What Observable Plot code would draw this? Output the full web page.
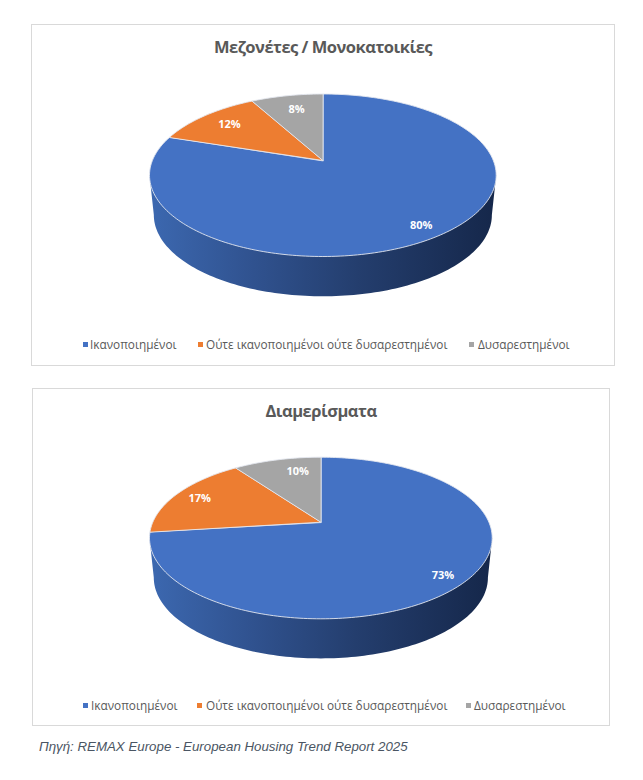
<!DOCTYPE html>
<html>
<head>
<meta charset="utf-8">
<script src="https://cdn.jsdelivr.net/npm/d3@7"></script>
<script src="https://cdn.jsdelivr.net/npm/@observablehq/plot@0.6"></script>
<style>
  html, body { margin: 0; padding: 0; background: #fff; }
  #page { position: relative; width: 643px; height: 780px; overflow: hidden; }
  .panel { position: absolute; box-shadow: inset 0 0 0 1px #d9d9d9; }
  .panel svg { position: absolute; left: 0; top: 0; background: transparent; }
  .title { position: absolute; left: 0; right: 0; text-align: center; font: 700 16.5px "Open Sans", sans-serif; letter-spacing: -0.5px; color: #595959; white-space: nowrap; }
  .lg { position: absolute; font: 400 11.8px "Open Sans", sans-serif; color: #595959; white-space: nowrap; line-height: 14px; }
  .sw { position: absolute; width: 5px; height: 5px; }
  #source { position: absolute; left: 39px; top: 739px; font: italic 13.3px "Liberation Sans", Arial, sans-serif; color: #4a5563; white-space: nowrap; }
</style>
</head>
<body>
<div id="page"></div>
<script>
// Data
const categories = ["Ικανοποιημένοι", "Ούτε ικανοποιημένοι ούτε δυσαρεστημένοι", "Δυσαρεστημένοι"];
const titles = ["Μεζονέτες / Μονοκατοικίες", "Διαμερίσματα"];
const housesValues = [80, 12, 8];
const apartmentsValues = [73, 17, 10];
const colors = ["#4472C4", "#ED7D31", "#A5A5A5"];
const source = "Πηγή: REMAX Europe - European Housing Trend Report 2025";

// Layout (pixels, page coordinates)
const layouts = [
  { values: housesValues, title: titles[0], left: 31, top: 24, w: 584, h: 342, titleTop: 35,
    xr: [149, 495.7], yr: [93.5, 256], apex: 160, legendY: 344,
    swatch: [83, 198, 469], text: [90, 206, 478],
    labelR: [0.877, 0.774, 0.757], labelTurn: [0.3, 0, 0.3] },
  { values: apartmentsValues, title: titles[1], left: 32, top: 388, w: 578, h: 338, titleTop: 399,
    xr: [149, 491.7], yr: [456.7, 618.3], apex: 521.7, legendY: 705,
    swatch: [83, 197, 466], text: [91, 206, 474],
    labelR: [0.88, 0.836, 0.764], labelTurn: [0.5, 0, 1.7] }
];
const depth = 0.49;      // rim height, as a share of the ellipse's vertical radius
const rimShrink = 0.975; // the lower rim is a little narrower

const page = document.getElementById("page");

function drawPanel(L, idx) {
  const panel = document.createElement("div");
  panel.className = "panel";
  Object.assign(panel.style, { left: L.left + "px", top: L.top + "px", width: L.w + "px", height: L.h + "px" });
  page.appendChild(panel);

  // perspective of the tilted disc, from the projected position of its centre
  const up = L.apex - L.yr[0], down = L.yr[1] - L.apex;
  const c = (up - down) / (up + down);
  const k = Math.sqrt(1 - c * c);
  const project = (X, Y) => ({ x: X * k / (1 + c * Y), y: Y / (1 + c * Y) });
  const yTop = -1 / (1 - c), yBot = 1 / (1 + c);
  const yc = (yTop + yBot) / 2, ry = (yBot - yTop) / 2;

  // value share -> point on the disc
  const at = (pct, r = 1) => {
    const a = pct / 100 * 2 * Math.PI;
    return project(r * Math.sin(a), -r * Math.cos(a));
  };

  const total = d3.sum(L.values);
  let run = 0;
  const slices = [], labels = [];
  L.values.forEach((v, i) => {
    const from = run / total * 100, to = (run + v) / total * 100;
    run += v;
    slices.push({ ...project(0, 0), category: categories[i] });
    const steps = Math.ceil((to - from) * 3);
    for (let s = 0; s <= steps; s++) slices.push({ ...at(from + (to - from) * s / steps), category: categories[i] });
    labels.push({ ...at((from + to) / 2 + L.labelTurn[i], L.labelR[i]), text: v + "%" });
  });

  // visible outer wall of the cylinder
  const wall = [{ x: 1, y: yc }];
  for (let s = 0; s <= 120; s++) {
    const t = s / 120 * Math.PI;
    wall.push({ x: rimShrink * Math.cos(t), y: yc + depth * ry + ry * Math.sin(t) });
  }
  wall.push({ x: -1, y: yc });

  const gid = "wall-gradient-" + idx;
  const gradient = () => {
    const g = d3.create("svg:g");
    const lg = g.append("defs").append("linearGradient").attr("id", gid);
    [[0, "#3c68b0"], [0.3, "#30528f"], [0.6, "#243e6e"], [1, "#15274a"]].forEach(([o, col]) =>
      lg.append("stop").attr("offset", o).attr("stop-color", col));
    return g.node();
  };

  const svg = Plot.plot({
    width: L.w, height: L.h,
    margin: 0,
    x: { domain: [-1, 1], range: L.xr.map(v => v - L.left), axis: null },
    y: { domain: [yTop, yBot], range: L.yr.map(v => v - L.top), axis: null },
    color: { domain: categories, range: colors },
    marks: [
      gradient,
      Plot.line(wall, { x: "x", y: "y", curve: "linear-closed", fill: `url(#${gid})`, stroke: "none" }),
      Plot.line(slices, { x: "x", y: "y", z: "category", fill: "category", curve: "linear-closed",
        stroke: "#e4e8ef", strokeWidth: 0.9, strokeLinejoin: "round" }),
      Plot.text(labels, { x: "x", y: "y", text: "text", fill: "#ffffff", fontWeight: 700,
        fontSize: 11, fontFamily: "'Open Sans', sans-serif" })
    ]
  });
  panel.appendChild(svg);

  const title = document.createElement("div");
  title.className = "title";
  title.textContent = L.title;
  title.style.top = (L.titleTop - L.top) + "px";
  panel.appendChild(title);

  categories.forEach((name, i) => {
    const sw = document.createElement("div");
    sw.className = "sw";
    Object.assign(sw.style, { left: (L.swatch[i] - L.left) + "px", top: (L.legendY - L.top - 2.5) + "px", background: colors[i] });
    panel.appendChild(sw);
    const t = document.createElement("div");
    t.className = "lg";
    t.textContent = name;
    Object.assign(t.style, { left: (L.text[i] - L.left) + "px", top: (L.legendY - L.top - 7) + "px" });
    panel.appendChild(t);
  });
}

layouts.forEach(drawPanel);

const src = document.createElement("div");
src.id = "source";
src.textContent = source;
page.appendChild(src);
</script>
</body>
</html>
